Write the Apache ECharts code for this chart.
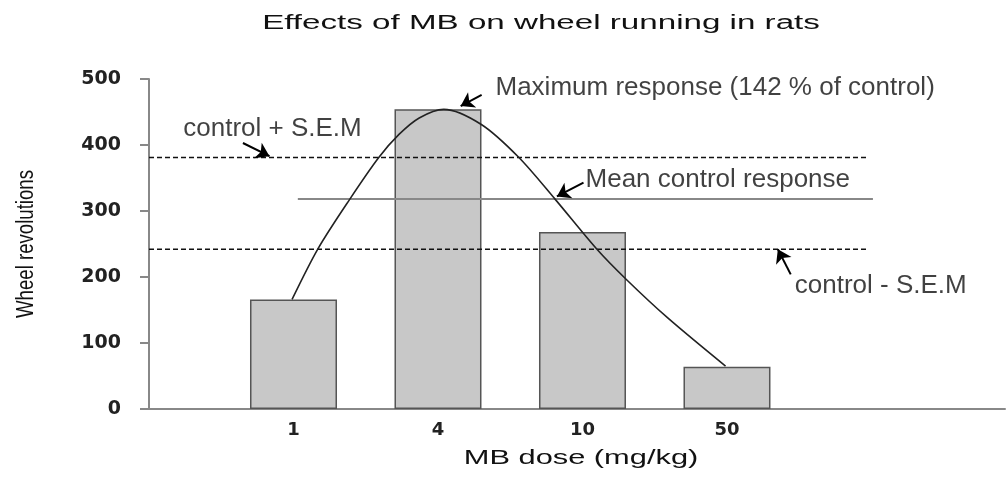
<!DOCTYPE html>
<html><head><meta charset="utf-8">
<script src="https://cdn.jsdelivr.net/npm/echarts@6/dist/echarts.min.js"></script>
<style>html,body{margin:0;padding:0;background:#fff}#c{width:1008px;height:479px}</style>
</head><body><div id="c"></div>
<script>
// ---- data ----
const doseLabels = ['1', '4', '10', '50'];          // MB dose (mg/kg)
const doseIndex = [1, 2, 3, 4];                      // position of each dose on the x scale
const wheelRevs = [166, 454, 268, 64];               // wheel revolutions
const curveX = [0.99, 1.17, 1.39, 1.59, 1.73, 1.87, 2.04, 2.30, 2.56, 2.81, 3.10, 3.30, 3.59, 3.99];
const curveY = [166, 243, 318, 381, 416, 441, 454, 431, 381, 318, 242, 197, 138, 65];
const controlMean = 318;
const controlPlusSEM = 381;
const controlMinusSEM = 242;
const yMin = 0, yMax = 500, yStep = 100;
const titleText = 'Effects of MB on wheel running in rats';
const xName = 'MB dose (mg/kg)';
const yName = 'Wheel revolutions';
const annoText = ['control + S.E.M', 'Maximum response (142 % of control)', 'Mean control response', 'control - S.E.M'];
const annoAt = [[0.237, 425], [2.398, 486], [3.021, 347], [4.469, 187]];
const arrowFrom = [[0.650, 403], [2.302, 476], [3.007, 343], [4.441, 204]];
const arrowTo = [[0.834, 383], [2.157, 459], [2.823, 322], [4.352, 242]];

// ---- chart ----
const chart = echarts.init(document.getElementById('c'), null, {renderer: 'canvas'});
const labelOf = {};
doseIndex.forEach((d, i) => { labelOf[d] = doseLabels[i]; });

const option = {
  animation: false,
  backgroundColor: '#ffffff',
  grid: {left: 149, right: 0, top: 79, bottom: 70, containLabel: false},
  graphic: [
    {type: 'text', x: 541, y: 24, scaleX: 1.7, scaleY: 1,
     style: {text: titleText, fontFamily: 'Liberation Sans, Arial, sans-serif', fontSize: 19.5,
             fill: '#111', align: 'center', verticalAlign: 'middle'}},
    {type: 'text', x: 581, y: 459, scaleX: 1.58, scaleY: 1,
     style: {text: xName, fontFamily: 'Liberation Sans, Arial, sans-serif', fontSize: 19.5,
             fill: '#111', align: 'center', verticalAlign: 'middle'}},
    {type: 'text', x: 27, y: 244, rotation: Math.PI / 2, scaleX: 0.81, scaleY: 1,
     style: {text: yName, fontFamily: 'Liberation Sans, Arial, sans-serif', fontSize: 23,
             fill: '#111', align: 'center', verticalAlign: 'middle'}}
  ],
  xAxis: {
    type: 'value', min: 0, max: 5.924, interval: 1,
    splitLine: {show: false},
    axisTick: {show: false},
    axisLine: {show: true, lineStyle: {color: '#888', width: 2}},
    axisLabel: {
      margin: 12, color: '#222', fontFamily: 'DejaVu Sans', fontWeight: 'bold', fontSize: 18,
      formatter: v => labelOf[v] || ''
    }
  },
  yAxis: {
    type: 'value', min: yMin, max: yMax, interval: yStep,
    splitLine: {show: false},
    axisLine: {show: true, lineStyle: {color: '#888', width: 2}},
    axisTick: {show: true, length: 9, lineStyle: {color: '#888', width: 2}},
    axisLabel: {margin: 28, color: '#222', fontFamily: 'DejaVu Sans', fontWeight: 'bold', fontSize: 19}
  },
  series: [
    {
      name: 'Wheel revolutions', type: 'bar', barWidth: 87,
      data: doseIndex.map((d, i) => [d, wheelRevs[i]]),
      itemStyle: {color: '#c8c8c8', borderColor: '#555', borderWidth: 1.5},
      z: 2
    },
    {
      name: 'control + S.E.M', type: 'line', symbol: 'none', silent: true,
      data: [[0, controlPlusSEM], [4.97, controlPlusSEM]],
      lineStyle: {color: '#111', width: 1.6, type: [5, 3]}, z: 3
    },
    {
      name: 'Mean control response', type: 'line', symbol: 'none', silent: true,
      data: [[1.03, controlMean], [5.01, controlMean]],
      lineStyle: {color: '#888', width: 2}, z: 3
    },
    {
      name: 'control - S.E.M', type: 'line', symbol: 'none', silent: true,
      data: [[0, controlMinusSEM], [4.97, controlMinusSEM]],
      lineStyle: {color: '#111', width: 1.6, type: [5, 3]}, z: 3
    },
    {
      name: 'Fitted curve', type: 'line', symbol: 'none', smooth: 0.3, silent: true,
      data: curveX.map((x, i) => [x, curveY[i]]),
      lineStyle: {color: '#222', width: 1.6}, z: 4
    },
    {
      name: 'arrows', type: 'lines', coordinateSystem: 'cartesian2d', silent: true,
      symbol: ['none', 'arrow'], symbolSize: 13,
      data: arrowFrom.map((f, i) => ({coords: [f, arrowTo[i]]})),
      lineStyle: {color: '#000', width: 2, curveness: 0, opacity: 1}, z: 5
    },
    {
      name: 'annotations', type: 'scatter', symbolSize: 0, silent: true,
      data: annoAt.map((p, i) => ({value: p, name: annoText[i]})),
      label: {show: true, position: 'right', distance: 0, formatter: '{b}',
              fontFamily: 'Liberation Sans, Arial, sans-serif', fontSize: 26, color: '#111'},
      z: 6
    }
  ]
};
chart.setOption(option);
</script>
</body></html>
